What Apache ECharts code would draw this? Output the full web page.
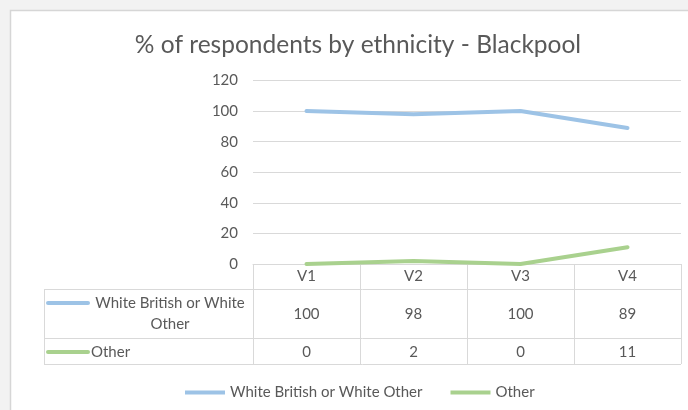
<!DOCTYPE html>
<html>
<head>
<meta charset="utf-8">
<script src="https://cdn.jsdelivr.net/npm/echarts@6/dist/echarts.min.js"></script>
<style>
  html, body { margin: 0; padding: 0; background: #f2f2f2; }
  #chart { width: 688px; height: 410px; }
</style>
</head>
<body>
<div id="chart"></div>
<script>
// Survey waves and the share of respondents in each ethnic group
const waves = ['V1', 'V2', 'V3', 'V4'];
const seriesNames = ['White British or White Other', 'Other'];
const whiteBritish = [100, 98, 100, 89];
const other = [0, 2, 0, 11];
const yTicks = { min: 0, max: 120, interval: 20 };

const FONT = 'Lato, "Open Sans", sans-serif';
const FS = 15;
const TEXT = '#595959';
const RULE = '#d9d9d9';
const COLORS = ['#9dc3e6', '#a9d18e'];

const chart = echarts.init(document.getElementById('chart'), null, { renderer: 'canvas' });

const tableTop = 264, headerBottom = 289, row1Bottom = 338, row2Bottom = 364;
const tableLeft = 44, plotLeft = 253, plotRight = 681;

chart.setOption({
  backgroundColor: '#f2f2f2',
  animation: false,
  textStyle: { fontFamily: FONT },
  title: {
    text: '% of respondents by ethnicity - Blackpool',
    left: 353, top: 28, textAlign: 'center',
    textStyle: { fontFamily: FONT, fontSize: 24.5, fontWeight: 'normal', color: TEXT }
  },
  legend: {
    left: 180, top: 380,
    icon: 'rect', itemWidth: 40, itemHeight: 4, itemGap: 28,
    textStyle: { fontFamily: FONT, fontSize: FS, color: TEXT },
    data: seriesNames
  },
  grid: { left: plotLeft, right: 688 - plotRight, top: 80.5, bottom: 410 - tableTop },
  xAxis: {
    type: 'category', data: waves, boundaryGap: true,
    axisLine: { show: true, lineStyle: { color: RULE, width: 1 } },
    axisTick: { show: true, length: row2Bottom - tableTop, lineStyle: { color: RULE } },
    axisLabel: { color: TEXT, fontSize: FS, margin: 5, fontFamily: FONT }
  },
  yAxis: {
    type: 'value', min: yTicks.min, max: yTicks.max, interval: yTicks.interval,
    axisLine: { show: false }, axisTick: { show: false },
    axisLabel: { color: TEXT, fontSize: FS, margin: 15, fontFamily: FONT },
    splitLine: { lineStyle: { color: RULE, width: 1 } }
  },
  series: [
    { name: seriesNames[0], type: 'line', data: whiteBritish, showSymbol: false, symbol: 'none',
      lineStyle: { color: COLORS[0], width: 4, cap: 'round', join: 'round' }, itemStyle: { color: COLORS[0] } },
    { name: seriesNames[1], type: 'line', data: other, showSymbol: false, symbol: 'none',
      lineStyle: { color: COLORS[1], width: 4, cap: 'round', join: 'round' }, itemStyle: { color: COLORS[1] } }
  ]
});

// Data table beneath the plot: borders, row keys and values placed on the category axis
function buildTable() {
  const g = [];
  g.push({ type: 'rect', z: -10, silent: true,
    shape: { x: 10.5, y: 10.5, width: 700, height: 420 },
    style: { fill: '#ffffff', stroke: '#d6d6d6', lineWidth: 1.5 } });

  const hLine = (y, x1) => ({ type: 'line', silent: true, z: 5,
    shape: { x1: x1, y1: y + 0.5, x2: plotRight, y2: y + 0.5 },
    style: { stroke: RULE, lineWidth: 1 } });
  g.push(hLine(headerBottom, tableLeft));
  g.push(hLine(row1Bottom, tableLeft));
  g.push(hLine(row2Bottom, tableLeft));
  g.push({ type: 'line', silent: true, z: 5,
    shape: { x1: tableLeft + 0.5, y1: headerBottom, x2: tableLeft + 0.5, y2: row2Bottom + 1 },
    style: { stroke: RULE, lineWidth: 1 } });

  const font = FS + 'px ' + FONT;
  const rows = [
    { values: whiteBritish, top: headerBottom, bottom: row1Bottom },
    { values: other, top: row1Bottom, bottom: row2Bottom }
  ];
  rows.forEach((row, r) => {
    const cy = (row.top + row.bottom) / 2 + 1;
    // legend key in the row header
    const keyY = r === 0 ? 303 : cy;
    g.push({ type: 'line', silent: true, z: 6,
      shape: { x1: 48, y1: keyY, x2: 88, y2: keyY },
      style: { stroke: COLORS[r], lineWidth: 4, lineCap: 'round' } });
    if (r === 0) {
      g.push({ type: 'text', silent: true, z: 6, x: 170, y: 303,
        style: { text: 'White British or White', fill: TEXT, font: font, align: 'center', verticalAlign: 'middle' } });
      g.push({ type: 'text', silent: true, z: 6, x: 170, y: 324,
        style: { text: 'Other', fill: TEXT, font: font, align: 'center', verticalAlign: 'middle' } });
    } else {
      g.push({ type: 'text', silent: true, z: 6, x: 91, y: cy,
        style: { text: seriesNames[1], fill: TEXT, font: font, align: 'left', verticalAlign: 'middle' } });
    }
    row.values.forEach((v, i) => {
      const x = chart.convertToPixel({ xAxisIndex: 0 }, waves[i]);
      g.push({ type: 'text', silent: true, z: 6, x: x, y: cy,
        style: { text: String(v), fill: TEXT, font: font, align: 'center', verticalAlign: 'middle' } });
    });
  });
  chart.setOption({ graphic: g });
}
buildTable();
</script>
</body>
</html>
